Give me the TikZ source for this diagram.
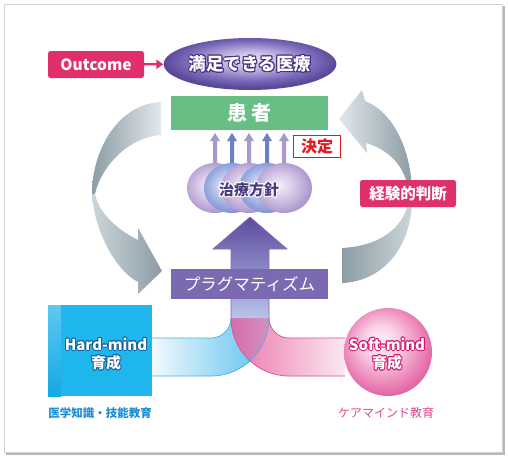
\documentclass[tikz,border=0pt]{standalone}
\usepackage{fontspec}
\setmainfont{Noto Sans CJK JP}
\usetikzlibrary{shapes.geometric,arrows.meta}
\definecolor{pinkc}{HTML}{E0306C}
\definecolor{greenc}{HTML}{68BF86}
\definecolor{redc}{HTML}{E8161E}
\definecolor{purc}{HTML}{7B6AB1}
\definecolor{cyanc}{HTML}{1EB6EC}
\definecolor{cyanl}{HTML}{5EC9F2}
\definecolor{cyand}{HTML}{12A8E4}
\definecolor{arcD}{HTML}{8C9CA5}
\definecolor{arcL}{HTML}{E2E8EB}
\definecolor{arcM}{HTML}{CDD6DA}
\definecolor{ellO}{HTML}{3E3080}
\definecolor{polO}{HTML}{4A3A7E}
\definecolor{hardO}{HTML}{0E5E9C}
\definecolor{softO}{HTML}{D0106A}
\definecolor{bluelab}{HTML}{1A8ED8}
\definecolor{pinklab}{HTML}{E2488C}
\definecolor{bandB}{HTML}{58C0EE}
\definecolor{bandW}{HTML}{F2F9FD}
\definecolor{bandP}{HTML}{E8589A}
\definecolor{bandPW}{HTML}{FBE4EE}
\definecolor{lineB}{HTML}{48B0E8}
\definecolor{lineP}{HTML}{E04C92}
\definecolor{lineV}{HTML}{9068B0}
\definecolor{shA}{HTML}{5C4AA0}
\definecolor{shB}{HTML}{A898CC}
\definecolor{shC}{HTML}{B8C4EA}
\definecolor{arLav}{HTML}{A898CC}
\definecolor{arBlu}{HTML}{6A80C8}
\definecolor{eA}{HTML}{ECE8F6}\definecolor{eB}{HTML}{BFB2E2}\definecolor{eC}{HTML}{7A68B8}\definecolor{eD}{HTML}{5A4898}
\definecolor{sA}{HTML}{FDF2F8}\definecolor{sB}{HTML}{F8D0E4}\definecolor{sC}{HTML}{EC86BA}\definecolor{sD}{HTML}{E0609E}
\definecolor{lA}{HTML}{F4F0F8}\definecolor{lB}{HTML}{DCD0EA}\definecolor{lC}{HTML}{C0AEDA}\definecolor{lD}{HTML}{A894CC}
\definecolor{bA}{HTML}{EEF2FA}\definecolor{bB}{HTML}{C4CEEE}\definecolor{bC}{HTML}{98A8E0}\definecolor{bD}{HTML}{8090D4}
\pgfdeclareradialshading{ellsh}{\pgfpoint{0bp}{5bp}}{color(0bp)=(eA); color(9bp)=(eB); color(19bp)=(eC); color(25bp)=(eD); color(50bp)=(eD)}
\pgfdeclareradialshading{softsh}{\pgfpoint{-5bp}{7bp}}{color(0bp)=(sA); color(10bp)=(sB); color(22bp)=(sC); color(29bp)=(sD); color(50bp)=(sD)}
\pgfdeclareradialshading{sphL}{\pgfpoint{-5bp}{3bp}}{color(0bp)=(lA); color(10bp)=(lB); color(20bp)=(lC); color(27bp)=(lD); color(50bp)=(lD)}
\pgfdeclareradialshading{sphB}{\pgfpoint{-5bp}{3bp}}{color(0bp)=(bA); color(10bp)=(bB); color(20bp)=(bC); color(27bp)=(bD); color(50bp)=(bD)}
\newlength\myolw \setlength\myolw{1pt}
\newlength\myolv \setlength\myolv{0.7pt}
\newcommand\olt[2]{{\setbox0=\hbox{#2}%
\textcolor{#1}{%
\rlap{\hspace*{\myolw}\copy0}\rlap{\hspace*{-\myolw}\copy0}%
\rlap{\raisebox{\myolw}{\copy0}}\rlap{\raisebox{-\myolw}{\copy0}}%
\rlap{\hspace*{\myolv}\raisebox{\myolv}{\copy0}}\rlap{\hspace*{-\myolv}\raisebox{\myolv}{\copy0}}%
\rlap{\hspace*{\myolv}\raisebox{-\myolv}{\copy0}}\rlap{\hspace*{-\myolv}\raisebox{-\myolv}{\copy0}}}%
\box0}}
\tikzset{
  pinkbox/.style={fill=pinkc, rounded corners=2.5pt, text=white, inner sep=0pt, minimum width=96pt, minimum height=27pt},
  flatbox/.style={inner sep=0pt, text=white},
  fs/.style={font=\fontsize{#1}{#1}\selectfont},
  fsb/.style={font=\bfseries\fontsize{#1}{#1}\selectfont},
  smallarrow/.style={fill=#1},
  sphere/.style={ellipse, minimum width=56pt, minimum height=50pt, inner sep=0pt, shade, shading=#1},
}
\newcommand\smallarr[2]{\fill[smallarrow=#2] (#1-2,176) -- (#1-2,141) -- (#1-5,141) -- (#1,133) -- (#1+5,141) -- (#1+2,141) -- (#1+2,176) -- cycle;}
\begin{document}
\begin{tikzpicture}[x=1pt,y=-1pt]
\useasboundingbox (0,0) rectangle (508,458);
% frame
\fill[black!28] (6,6) rectangle (504.5,454.5);
\draw[fill=white, draw=black!18, line width=0.6pt] (4,4) rectangle (502,452);
% grey arcs (left)
\shade[left color=arcD, right color=arcL] (161,102) .. controls (118,104) and (92,150) .. (92,194) -- (95,194) .. controls (100,170) and (125,138) .. (161,135) -- cycle;
\shade[left color=arcM, right color=arcD] (92,194) .. controls (94,230) and (115,270) .. (138,282) -- (138,294) -- (162,271) -- (138,228) -- (138,240) .. controls (118,230) and (99,214) .. (95,194) -- cycle;
% grey arcs (right)
\shade[left color=arcL, right color=arcD] (409,195) .. controls (407,168) and (390,150) .. (366,143) -- (367,153) -- (339,119) -- (362,90) -- (365,101) .. controls (393,112) and (412,150) .. (412,195) -- cycle;
\shade[left color=arcD, right color=arcM] (342,248) .. controls (382,246) and (408,225) .. (409,195) -- (412,195) .. controls (413,245) and (385,281) .. (342,283) -- cycle;
% top nodes
\node[pinkbox, fsb=15.5] (outcome) at (96,64.5) {Outcome};
\node[ellipse, minimum width=151pt, minimum height=52pt, inner sep=0pt, shade, shading=ellsh, text=white, fsb=17.5] (goal) at (250,64) {\olt{ellO}{満足できる医療}};
\draw[pinkc, line width=2.2pt, -{Triangle[length=7pt,width=9pt]}] (outcome) -- (goal);
\node[flatbox, fill=greenc, minimum width=157pt, minimum height=34pt, fsb=20] (patient) at (249.5,113) {患 者};
% small arrows
\smallarr{215}{arLav}
\smallarr{232}{arBlu}
\smallarr{249}{arLav}
\smallarr{267}{arBlu}
\smallarr{284}{arLav}
\node[draw=redc, line width=1.2pt, fill=white, minimum width=47pt, minimum height=22pt, inner sep=0pt, text=redc, fsb=16] (decide) at (317,146.5) {決定};
% spheres
\node[sphere=sphL] (s1) at (215,188) {};
\node[sphere=sphB] (s2) at (232,188) {};
\node[sphere=sphL] (s3) at (249,188) {};
\node[sphere=sphB] (s4) at (267,188) {};
\node[sphere=sphL] (s5) at (284,188) {};
\node[text=polO, fsb=15] (policy) at (249,190) {\setlength\myolw{1.1pt}\setlength\myolv{0.8pt}\olt{white}{治療方針}};
\node[pinkbox, fsb=15.5] (exp) at (408,193.5) {経験的判断};
% bands
\shade[left color=bandW, right color=bandB] (152,338) -- (211,338) .. controls (222,338) and (231,329) .. (231,318) -- (269,318) .. controls (269,350) and (243,376) .. (211,376) -- (152,376) -- cycle;
\shade[left color=bandP, right color=bandPW, opacity=0.82] (345,338) -- (289,338) .. controls (278,338) and (269,329) .. (269,318) -- (231,318) .. controls (231,350) and (257,376) .. (289,376) -- (345,376) -- cycle;
\draw[lineB, line width=0.7pt] (152,338) -- (211,338) .. controls (222,338) and (231,329) .. (231,318);
\draw[lineB, line width=0.7pt] (152,376) -- (211,376) .. controls (243,376) and (269,350) .. (269,318);
\draw[lineP, line width=0.7pt] (345,338) -- (289,338) .. controls (278,338) and (269,329) .. (269,318);
\draw[lineP, line width=0.7pt] (345,376) -- (289,376) .. controls (257,376) and (231,350) .. (231,318);
% main arrow
\shade[top color=shA, middle color=shB, bottom color=shC] (250,217) -- (287,249) -- (269,249) -- (269,318) -- (231,318) -- (231,249) -- (213,249) -- cycle;
\draw[lineV, line width=0.7pt] (231,318) -- (231,249) -- (213,249) -- (250,217) -- (287,249) -- (269,249) -- (269,318);
\node[flatbox, fill=purc, minimum width=157pt, minimum height=30pt, fs=16.5] (prag) at (249.5,284) {プラグマティズム};
% hard mind
\node[fill=cyanc, minimum width=104pt, minimum height=91pt, inner sep=0pt] (hardbox) at (100,350.5) {};
\shade[top color=cyanl, bottom color=cyand] (48,305) rectangle (61,396);
\node[text=white, fsb=15, align=center] (hardtxt) at (106,354) {\olt{hardO}{Hard-mind}\\[2pt]\olt{hardO}{育成}};
\node[text=bluelab, fsb=11.5] (hardlab) at (100,413) {医学知識・技能教育};
% soft mind
\node[circle, minimum size=88pt, inner sep=0pt, shade, shading=softsh] (soft) at (388,352) {};
\node[text=white, fsb=15, align=center] (softtxt) at (387,354) {\olt{softO}{Soft-mind}\\[2pt]\olt{softO}{育成}};
\node[text=pinklab, fs=12] (softlab) at (386,413) {ケアマインド教育};
\end{tikzpicture}
\end{document}
